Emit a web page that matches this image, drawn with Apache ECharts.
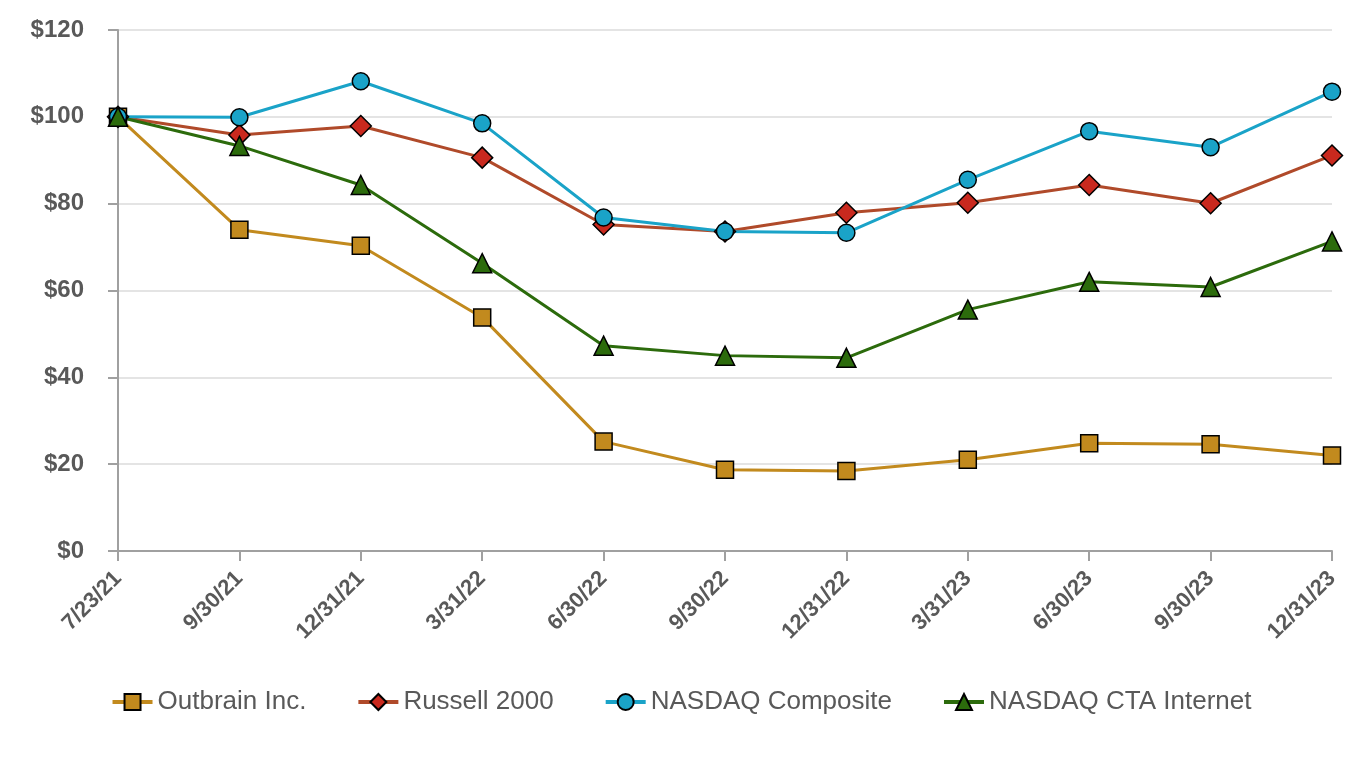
<!DOCTYPE html>
<html>
<head>
<meta charset="utf-8">
<script src="https://cdn.jsdelivr.net/npm/echarts@6/dist/echarts.min.js"></script>
<style>
html,body{margin:0;padding:0;background:#fff;}
#chart{width:1362px;height:760px;}
</style>
</head>
<body>
<div id="chart"></div>
<script>
const categories = ['7/23/21','9/30/21','12/31/21','3/31/22','6/30/22','9/30/22','12/31/22','3/31/23','6/30/23','9/30/23','12/31/23'];
const outbrain = [100, 74.0, 70.3, 53.8, 25.2, 18.7, 18.4, 21.0, 24.8, 24.6, 22.0];
const russell = [100, 95.8, 97.9, 90.6, 75.2, 73.6, 77.9, 80.2, 84.3, 80.1, 91.1];
const nasdaq = [100, 99.9, 108.2, 98.5, 76.8, 73.6, 73.3, 85.5, 96.7, 93.0, 105.8];
const cta = [100, 93.3, 84.3, 66.3, 47.3, 45.0, 44.5, 55.6, 62.0, 60.8, 71.3];
const yTicks = {min: 0, max: 120, interval: 20};

const chart = echarts.init(document.getElementById('chart'));
function mk(name, data, lineColor, fillColor, symbol, size) {
  return {
    name: name, type: 'line', data: data,
    symbol: symbol, symbolSize: size,
    lineStyle: {color: lineColor, width: 3},
    itemStyle: {color: fillColor, borderColor: '#000', borderWidth: 1.5},
    emphasis: {disabled: true},
    animation: false
  };
}
chart.setOption({
  backgroundColor: '#fff',
  animation: false,
  grid: {left: 118, right: 30, top: 30, bottom: 209},
  legend: {
    left: 'center', top: 684, itemWidth: 40, itemHeight: 20, itemGap: 50,
    lineStyle: {width: 4},
    textStyle: {fontFamily: 'Liberation Sans, Arial', fontSize: 26, color: '#595959'},
    data: ['Outbrain Inc.', 'Russell 2000', 'NASDAQ Composite', 'NASDAQ CTA Internet']
  },
  xAxis: {
    type: 'category', data: categories, boundaryGap: false,
    axisLine: {lineStyle: {color: '#a0a0a0', width: 2}},
    axisTick: {show: true, length: 10, lineStyle: {color: '#a0a0a0', width: 2}},
    axisLabel: {rotate: 45, fontFamily: 'Liberation Sans, Arial', fontWeight: 'bold', fontSize: 22, color: '#595959', margin: 24, interval: 0},
    splitLine: {show: false}
  },
  yAxis: {
    type: 'value', min: yTicks.min, max: yTicks.max, interval: yTicks.interval,
    axisLine: {show: true, lineStyle: {color: '#a0a0a0', width: 2}},
    axisTick: {show: true, length: 10, lineStyle: {color: '#a0a0a0', width: 2}},
    axisLabel: {formatter: v => '$' + v, fontFamily: 'Liberation Sans, Arial', fontWeight: 'bold', fontSize: 24, color: '#595959', margin: 34},
    splitLine: {lineStyle: {color: '#e4e4e4', width: 2}}
  },
  series: [
    mk('Outbrain Inc.', outbrain, '#C28A1E', '#C28A1E', 'rect', 17),
    mk('Russell 2000', russell, '#B04A2A', '#C9291E', 'diamond', 21),
    mk('NASDAQ Composite', nasdaq, '#1AA3C8', '#1AA3C8', 'circle', 17),
    mk('NASDAQ CTA Internet', cta, '#2C6B0C', '#2C6B0C', 'triangle', 19)
  ]
});
</script>
</body>
</html>
